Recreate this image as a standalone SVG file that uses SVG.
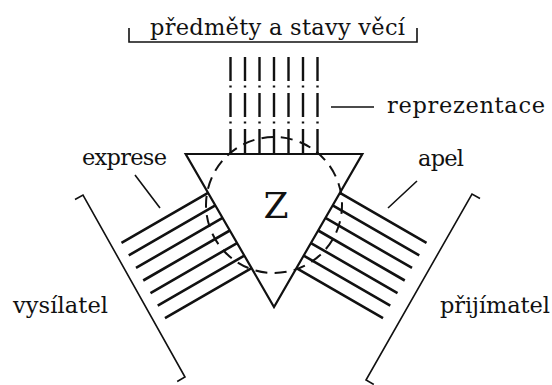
<svg xmlns="http://www.w3.org/2000/svg" width="552" height="385" viewBox="0 0 552 385">
<style>
text{font-family:"DejaVu Serif","Liberation Serif",serif;font-size:22.5px;fill:#111}
.b{stroke:#111;stroke-width:2.6;fill:none}
.v{stroke:#111;stroke-width:2.4;fill:none;stroke-dasharray:24 4.5 2 5.5}
.t{stroke:#111;stroke-width:2.2;fill:none;stroke-linejoin:miter}
.c{stroke:#111;stroke-width:2;fill:none;stroke-dasharray:12 7.4}
.k{stroke:#111;stroke-width:1.6;fill:none}
</style>
<rect width="552" height="385" fill="#fff"/>
<g id="predmety">
<path class="k" d="M129,28 V42 H417 V28"/>
<text x="150" y="35" textLength="255">předměty a stavy věcí</text>
</g>
<g id="vysilatel">
<path class="k" d="M75,199.5 L83,195 L185,377 L177.2,381.5"/>
<text x="13" y="313" textLength="95">vysílatel</text>
</g>
<g id="prijimatel">
<path class="k" d="M480,198.5 L472,194 L366,380 L373.8,384.5"/>
<text x="440" y="313" textLength="110">přijímatel</text>
</g>
<g id="Z">
<path class="t" d="M185.67,154 L362.33,154 L274,307 Z"/>
<circle class="c" cx="274" cy="205" r="68" stroke-dashoffset="3"/>
<text x="276" y="218" style="font-size:36px" text-anchor="middle">Z</text>
</g>
<g id="connectors">
<g id="reprezentace-lines">
<path class="v" d="M230.5,57 V154 M245,57 V154 M259.5,57 V154 M274,57 V154 M288.5,57 V154 M303,57 V154 M317.5,57 V154"/>
</g>
<g id="exprese-lines">
<path class="b" d="M121.48,242.83 L208.08,192.83 M128.73,255.39 L215.33,205.39 M135.98,267.94 L222.58,217.94 M143.23,280.5 L229.83,230.5 M150.48,293.06 L237.08,243.06 M157.73,305.61 L244.33,255.61 M164.98,318.17 L251.58,268.17"/>
</g>
<g id="apel-lines">
<path class="b" d="M426.52,242.83 L339.92,192.83 M419.27,255.39 L332.67,205.39 M412.02,267.94 L325.42,217.94 M404.77,280.5 L318.17,230.5 M397.52,293.06 L310.92,243.06 M390.27,305.61 L303.67,255.61 M383.02,318.17 L296.42,268.17"/>
</g>
<path class="k" d="M331,107 H374 M135,175 L160,208 M417,181 L388,208"/>
</g>
<g id="labels">
<text x="387" y="113" textLength="158">reprezentace</text>
<text x="82" y="165" textLength="85">exprese</text>
<text x="418" y="166" textLength="46">apel</text>
</g>
</svg>
